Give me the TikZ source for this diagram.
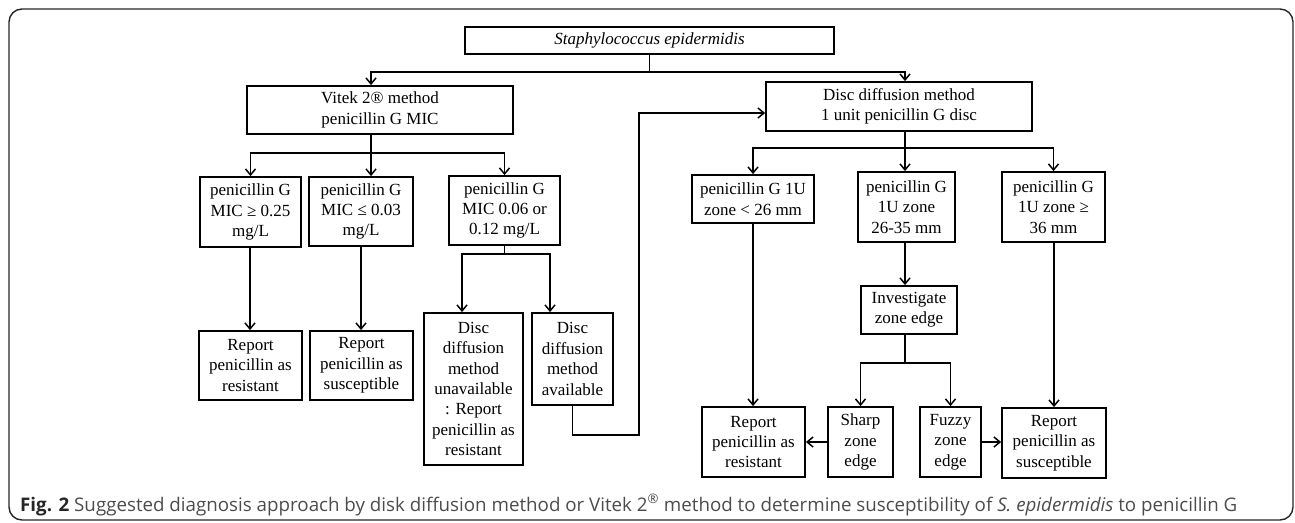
\documentclass[tikz,border=0pt]{standalone}
\usepackage{fontspec}
\usepackage{graphicx}
\setmainfont{Liberation Serif}
\newfontfamily\capfont{Open Sans}
\usetikzlibrary{arrows.meta,calc}
\begin{document}
\begin{tikzpicture}[x=1pt,y=-1pt,
  box/.style={draw, line width=1.8pt, align=center, inner sep=0pt,
    font=\fontsize{17}{20.4}\selectfont},
  arr/.style={line width=1.8pt, -{Straight Barb[length=6pt,width=10pt,line width=1.5pt]}}]
\useasboundingbox (0,0) rectangle (1295,522);
\draw[line width=1.4pt, rounded corners=13pt, black!85] (9,9) rectangle (1293,520);
% nodes
\node[box, minimum width=369, minimum height=27] (top) at (649.5,40.5) {\textit{Staphylococcus epidermidis}};
\node[box, minimum width=266, minimum height=48] (vitek) at (380,110) {Vitek 2® method\\penicillin G MIC};
\node[box, minimum width=266, minimum height=49] (disc) at (899,106.5) {Disc diffusion method\\1 unit penicillin G disc};
\node[box, minimum width=101, minimum height=70] (A) at (250.5,212) {penicillin G\\MIC ≥ 0.25\\mg/L};
\node[box, minimum width=104, minimum height=69] (B) at (361,211.5) {penicillin G\\MIC ≤ 0.03\\mg/L};
\node[box, minimum width=111, minimum height=69] (C) at (504.5,210.5) {penicillin G\\MIC 0.06 or\\0.12 mg/L};
\node[box, minimum width=103, minimum height=69] (RA) at (250.5,365.5) {Report\\penicillin as\\resistant};
\node[box, minimum width=103, minimum height=69] (RB) at (361.5,365.5) {Report\\penicillin as\\susceptible};
\node[box, minimum width=99, minimum height=152] (D) at (473.5,389) {Disc\\diffusion\\method\\unavailable\\: Report\\penicillin as\\resistant};
\node[box, minimum width=81, minimum height=92] (E) at (572.5,359) {Disc\\diffusion\\method\\available};
\node[box, minimum width=122, minimum height=48] (Z1) at (753,199) {penicillin G 1U\\zone < 26 mm};
\node[box, minimum width=97, minimum height=70] (Z2) at (906.5,207) {penicillin G\\1U zone\\26-35 mm};
\node[box, minimum width=103, minimum height=70] (Z3) at (1053.5,207) {penicillin G\\1U zone ≥\\36 mm};
\node[box, minimum width=96, minimum height=48] (Inv) at (909,310) {Investigate\\zone edge};
\node[box, minimum width=103, minimum height=70] (RR) at (753.5,442) {Report\\penicillin as\\resistant};
\node[box, minimum width=65, minimum height=70] (Sharp) at (860.5,442) {Sharp\\zone\\edge};
\node[box, minimum width=61, minimum height=70] (Fuzzy) at (950.5,442) {Fuzzy\\zone\\edge};
\node[box, minimum width=104, minimum height=70] (RS) at (1054,443) {Report\\penicillin as\\susceptible};
% helper coordinates
\coordinate (vx) at (371,0);
\coordinate (dx) at (905,0);
\coordinate (ax) at (250,0);
\coordinate (bx) at (361,0);
\coordinate (z1x) at (753,0);
\coordinate (z3x) at (1054,0);
\coordinate (dax) at (462,0);
\coordinate (eax) at (550,0);
\coordinate (lpb) at (639,435);
\coordinate (lpt) at (639,113);
% connectors
\draw[arr] (top.south) -- ++(0,17) -| (vx |- vitek.north);
\draw[arr] (top.south) -- ++(0,17) -| (dx |- disc.north);
\draw[arr] (vx |- vitek.south) -- ++(0,18) -| (A.north);
\draw[arr] (vx |- vitek.south) -- (vx |- B.north);
\draw[arr] (vx |- vitek.south) -- ++(0,18) -| (C.north);
\draw[arr] (ax |- A.south) -- (ax |- RA.north);
\draw[arr] (bx |- B.south) -- (bx |- RB.north);
\draw[arr] (C.south) -- ++(0,8) -| (dax |- D.north);
\draw[arr] (C.south) -- ++(0,8) -| (eax |- E.north);
\draw[arr] (E.south) |- (lpb) -- (lpt) -- (lpt -| disc.west);
\draw[arr] (dx |- disc.south) -- ++(0,16) -| (Z1.north);
\draw[arr] (dx |- disc.south) -- (dx |- Z2.north);
\draw[arr] (dx |- disc.south) -- ++(0,16) -| (Z3.north);
\draw[arr] (z1x |- Z1.south) -- (z1x |- RR.north);
\draw[arr] (dx |- Z2.south) -- (dx |- Inv.north);
\draw[arr] (dx |- Inv.south) -- ++(0,28) -| (Sharp.north);
\draw[arr] (dx |- Inv.south) -- ++(0,28) -| (Fuzzy.north);
\draw[arr] (Sharp.west) -- (Sharp.west -| RR.east);
\draw[arr] (Fuzzy.east) -- (Fuzzy.east -| RS.west);
\draw[arr] (z3x |- Z3.south) -- (z3x |- RS.north);
% caption
\node[anchor=west, inner sep=0pt] (cap) at (20,505)
  {\resizebox{1217pt}{!}{\capfont\fontsize{16.5}{20}\selectfont\color{black!70}{\bfseries\color{black!85}Fig. 2} Suggested diagnosis approach by disk diffusion method or Vitek 2\textsuperscript{®} method to determine susceptibility of \textit{S. epidermidis} to penicillin G}};
\end{tikzpicture}
\end{document}
